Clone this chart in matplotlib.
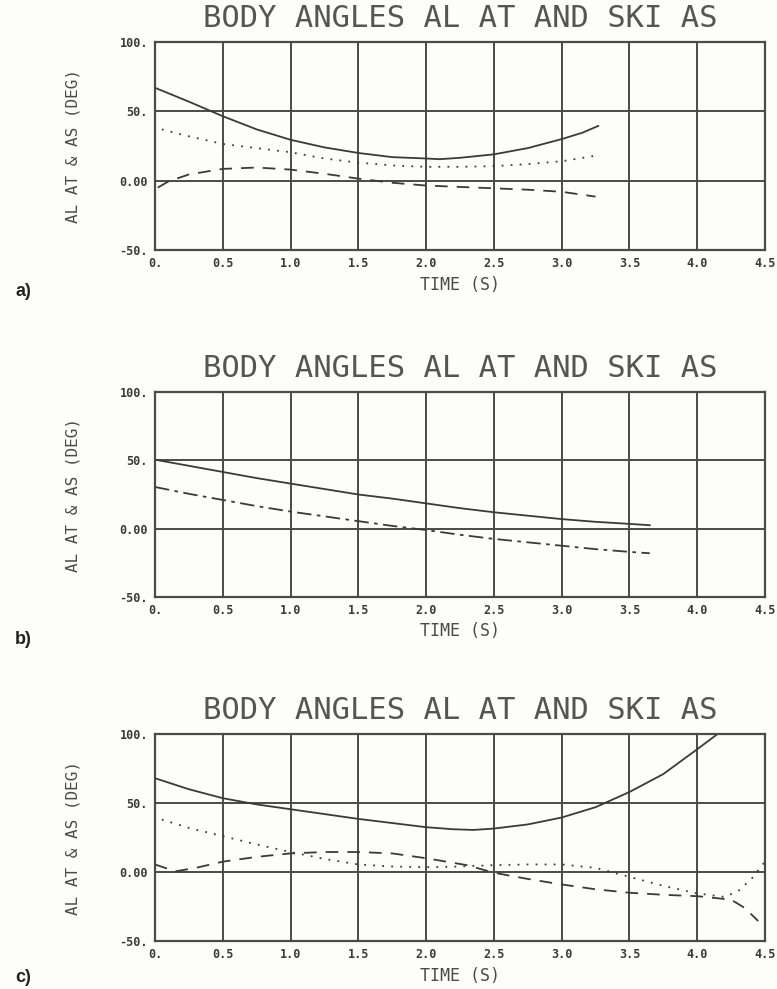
import numpy as np
import matplotlib.pyplot as plt

# panel a
ta_al = [0.0, 0.25, 0.5, 0.75, 1.0, 1.25, 1.5, 1.75, 2.0, 2.1, 2.25, 2.5, 2.75, 3.0, 3.15, 3.27]
al_a = [67, 57, 46.5, 37, 29.5, 24, 20, 17, 16, 15.5, 16.5, 19, 23.5, 30, 34.5, 39.5]
ta_at = [0.05, 0.25, 0.5, 0.75, 1.0, 1.25, 1.5, 1.75, 2.0, 2.25, 2.5, 2.75, 3.0, 3.25]
at_a = [37, 32, 26.5, 23.5, 20.5, 16, 13, 11, 10, 10, 10.5, 12, 14, 18]
ta_as = [0.02, 0.1, 0.25, 0.5, 0.75, 1.0, 1.25, 1.5, 1.75, 2.0, 2.25, 2.5, 2.75, 3.0, 3.25]
as_a = [-5, -0.5, 4.5, 8.5, 9.5, 8, 5, 1.5, -1.5, -3.5, -4.5, -5.5, -6.5, -8, -11.5]

# panel b
tb = [0.0, 0.25, 0.5, 0.75, 1.0, 1.25, 1.5, 1.75, 2.0, 2.25, 2.5, 2.75, 3.0, 3.25, 3.5, 3.65]
al_b = [50.5, 46, 41.5, 37, 33, 29, 25, 22, 18.5, 15, 12, 9.5, 7, 5, 3.5, 2.5]
as_b = [30.5, 25.5, 21, 16.5, 12.5, 9, 5.5, 2, -1, -4.5, -7.5, -10, -12.5, -15, -17, -18]

# panel c
tc_al = [0.0, 0.25, 0.5, 0.75, 1.0, 1.25, 1.5, 1.75, 2.0, 2.2, 2.35, 2.5, 2.75, 3.0, 3.25, 3.5, 3.75, 4.0, 4.15]
al_c = [68, 60, 53.5, 49, 45.5, 42, 38.5, 35.5, 32.5, 31, 30.5, 31.5, 34.5, 39.5, 47, 58, 71, 89, 100]
tc_at = [0.05, 0.25, 0.5, 0.75, 1.0, 1.25, 1.5, 1.75, 2.0, 2.25, 2.5, 2.75, 3.0, 3.25, 3.5, 3.75, 4.0, 4.2, 4.3, 4.4, 4.5]
at_c = [38, 32, 26, 20, 14.5, 9.5, 5.5, 4, 3.5, 4, 5, 5.5, 5.5, 3, -3.5, -10, -15.5, -18, -14, -5, 7.5]
tc_as = [0.0, 0.15, 0.3, 0.5, 0.75, 1.0, 1.25, 1.5, 1.75, 2.0, 2.3, 2.5, 2.75, 3.0, 3.25, 3.5, 3.75, 4.0, 4.25, 4.35, 4.45]
as_c = [5.5, 0.5, 3, 7.5, 11, 13.5, 14.5, 14.5, 13.5, 10, 5, -0.5, -5, -9, -12.5, -15, -16.5, -17.5, -20, -26, -35.5]

xticks = [0, 0.5, 1.0, 1.5, 2.0, 2.5, 3.0, 3.5, 4.0, 4.5]
xlabels = ['0.', '0.5', '1.0', '1.5', '2.0', '2.5', '3.0', '3.5', '4.0', '4.5']
yticks = [-50, 0, 50, 100]
ylabels = ['-50.', '0.00', '50.', '100.']

ink = '#3a3a3a'
grid_c = '#4a4a4a'
mono = 'DejaVu Sans Mono'

fig = plt.figure(figsize=(7.77, 9.89), dpi=100)
fig.patch.set_facecolor('#fdfdfb')

boxes = [(0.9575, 0.7472), (0.6036, 0.3964), (0.2578, 0.0485)]
left, right = 155 / 777, 765 / 777
panels = [
    [(ta_al, al_a, '-'), (ta_at, at_a, (0, (1, 4))), (ta_as, as_a, (0, (7, 5)))],
    [(tb, al_b, '-'), (tb, as_b, (0, (8, 3, 2, 3)))],
    [(tc_al, al_c, '-'), (tc_at, at_c, (0, (1, 4))), (tc_as, as_c, (0, (7, 5)))],
]
tags = ['a)', 'b)', 'c)']
tag_y = [292, 640, 978]

for (top, bot), series, tag, ty in zip(boxes, panels, tags, tag_y):
    ax = fig.add_axes([left, bot, right - left, top - bot])
    ax.set_facecolor('#fdfdfb')
    ax.set_xlim(0, 4.5)
    ax.set_ylim(-50, 100)
    ax.set_xticks(xticks)
    ax.set_xticklabels(xlabels, family=mono, fontsize=8.5, color=ink, fontweight='bold')
    ax.set_yticks(yticks)
    ax.set_yticklabels(ylabels, family=mono, fontsize=8.5, color=ink, fontweight='bold')
    ax.tick_params(length=0, pad=5)
    ax.grid(True, color=grid_c, linewidth=1.4)
    for s in ax.spines.values():
        s.set_color(grid_c)
        s.set_linewidth(1.6)
    for t, v, ls in series:
        ax.plot(t, v, color=ink, linestyle=ls, linewidth=1.3)
    ax.set_title('BODY ANGLES AL AT AND SKI AS', family=mono, fontsize=22,
                 color='#555555', pad=11)
    ax.set_xlabel('TIME (S)', family=mono, fontsize=12, color='#4a4a4a', labelpad=4)
    ax.set_ylabel('AL AT & AS (DEG)', family=mono, fontsize=11.5, color='#4a4a4a', labelpad=28)
    fig.text(15 / 777, 1 - ty / 989, tag, fontsize=13, fontweight='bold',
             family='Liberation Sans', color='#222222', va='center')

fig.savefig('out.png', dpi=100, facecolor=fig.get_facecolor())
